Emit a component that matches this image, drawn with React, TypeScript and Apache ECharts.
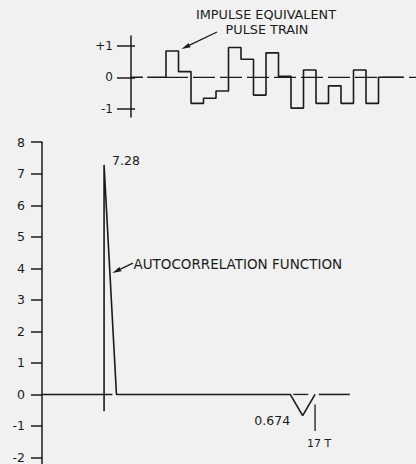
import React, { useEffect, useRef } from "react";
import * as echarts from "echarts";

// ---- Top: impulse-equivalent pulse train (17 slots of width T) ----
const pulseValues = [0.83, 0.18, -0.82, -0.66, -0.43, 0.94, 0.57, -0.56, 0.77, 0.03, -0.97, 0.23, -0.82, -0.27, -0.82, 0.23, -0.82];
const pulseLead = -1.5;
const pulseTail = 19;
const pulseTicks = [-1, 0, 1];
const pulseTickLabels: Record<string, string> = { "-1": "-1", "0": "0", "1": "+1" };
const pulseTitle = ["IMPULSE EQUIVALENT", "PULSE TRAIN"];

// ---- Bottom: autocorrelation function (lag in units of T) ----
const acLags = [0, 0, 1, 15, 16, 17];
const acValues = [-0.53, 7.28, 0, 0, -0.674, 0];
const acTicks = [-2, -1, 0, 1, 2, 3, 4, 5, 6, 7, 8];
const acTitle = "AUTOCORRELATION FUNCTION";
const peakLabel = "7.28";
const dipLabel = "0.674";
const lagLabel = "17 T";
const lagMarkX = 17;
const lagMarkY = [-0.32, -1.16];

const INK = "#1b1b1b";
const FONT = "'DejaVu Sans', 'Liberation Sans', Arial, sans-serif";

export default function App() {
  const ref = useRef<HTMLDivElement>(null);
  useEffect(() => {
    document.body.style.margin = "0";
    document.body.style.background = "#f1f1f1";
    const chart = echarts.init(ref.current!, null, { renderer: "svg" });

    const pulsePts: number[][] = [[pulseLead, 0], [0, 0]];
    pulseValues.forEach((v, i) => {
      pulsePts.push([i, v], [i + 1, v]);
    });
    pulsePts.push([pulseValues.length, 0], [pulseTail, 0]);

    const acPts = acLags.map((l, i) => [l, acValues[i]]);

    const line = (extra: any) => ({
      type: "line",
      symbol: "none",
      silent: true,
      clip: false,
      lineStyle: { color: INK, width: 1.6 },
      ...extra,
    });

    chart.setOption({
      animation: false,
      backgroundColor: "#f1f1f1",
      grid: [
        { left: 131, right: 0, top: 36, height: 81 },
        { left: 42, right: 63.7, top: 142.2, bottom: 0 },
      ],
      xAxis: [
        { type: "value", gridIndex: 0, min: -2.8, max: 20, show: false },
        { type: "value", gridIndex: 1, min: -5, max: 20, show: false },
      ],
      yAxis: [
        {
          type: "value", gridIndex: 0, min: -1.25, max: 1.3,
          axisLine: { show: true, onZero: false, lineStyle: { color: INK, width: 1.5 } },
          axisTick: { show: true, customValues: pulseTicks, length: 14, lineStyle: { color: INK, width: 1.5 } },
          axisLabel: {
            customValues: pulseTicks, margin: 18, color: INK, fontSize: 12, fontFamily: FONT,
            formatter: (v: number) => pulseTickLabels[String(v)],
          },
          splitLine: { show: false },
        },
        {
          type: "value", gridIndex: 0, min: -1.25, max: 1.3, position: "left",
          axisLine: { show: false, onZero: false },
          axisTick: { show: true, inside: true, customValues: pulseTicks, length: 4, lineStyle: { color: INK, width: 1.5 } },
          axisLabel: { show: false },
          splitLine: { show: false },
        },
        {
          type: "value", gridIndex: 1, min: -2.2, max: 8,
          axisLine: { show: true, onZero: false, lineStyle: { color: INK, width: 1.5 } },
          axisTick: { show: true, customValues: acTicks, length: 11, lineStyle: { color: INK, width: 1.5 } },
          axisLabel: {
            customValues: acTicks, margin: 17, color: INK, fontSize: 12.5, fontFamily: FONT,
            formatter: (v: number) => String(v),
          },
          splitLine: { show: false },
        },
      ],
      series: [
        // top zero reference (dashed) and stub right of axis
        line({ xAxisIndex: 0, yAxisIndex: 0, data: [[0, 0], [20, 0]], lineStyle: { color: INK, width: 1.3, type: [22, 5] } }),
        line({ xAxisIndex: 0, yAxisIndex: 0, data: [[-2.8, 0], [-1.85, 0]], lineStyle: { color: INK, width: 1.5 } }),
        line({ xAxisIndex: 0, yAxisIndex: 0, data: pulsePts }),
        // bottom baseline pieces
        line({ xAxisIndex: 1, yAxisIndex: 2, data: [[-5, 0], [0.67, 0]], lineStyle: { color: INK, width: 1.5 } }),
        line({ xAxisIndex: 1, yAxisIndex: 2, data: [[15, 0], [17.3, 0]], lineStyle: { color: INK, width: 1.3, type: [15, 12], dashOffset: 23.7 } }),
        line({ xAxisIndex: 1, yAxisIndex: 2, data: [[17.3, 0], [19.8, 0]], lineStyle: { color: INK, width: 1.5 } }),
        line({ xAxisIndex: 1, yAxisIndex: 2, data: acPts }),
        line({ xAxisIndex: 1, yAxisIndex: 2, data: [[lagMarkX, lagMarkY[0]], [lagMarkX, lagMarkY[1]]], lineStyle: { color: INK, width: 1.3 } }),
      ],
    });

    const p0 = (x: number, y: number) => chart.convertToPixel({ gridIndex: 0 }, [x, y]) as number[];
    const p1 = (x: number, y: number) => chart.convertToPixel({ gridIndex: 1 }, [x, y]) as number[];

    const arrow = (tail: number[], tip: number[]) => {
      const dx = tip[0] - tail[0], dy = tip[1] - tail[1];
      const len = Math.hypot(dx, dy);
      const ux = dx / len, uy = dy / len;
      const L = 9, W = 2.4;
      const bx = tip[0] - ux * L, by = tip[1] - uy * L;
      return [
        { type: "line", silent: true, shape: { x1: tail[0], y1: tail[1], x2: bx, y2: by }, style: { stroke: INK, lineWidth: 1.3 } },
        {
          type: "polygon", silent: true,
          shape: { points: [[tip[0], tip[1]], [bx - uy * W, by + ux * W], [bx + uy * W, by - ux * W]] },
          style: { fill: INK },
        },
      ];
    };
    const txt = (x: number, y: number, text: string, align: string, size = 12.5, extra: any = {}) => ({
      type: "text", silent: true, x, y,
      style: { text, fill: INK, fontSize: size, fontFamily: FONT, align, verticalAlign: "middle", ...extra },
    });

    const corner = p0(1, pulseValues[0]);
    const tipTop = [corner[0] + 3, corner[1] - 2];
    const titleAnchor = p0(8, 1.3);
    const peak = p1(0, acValues[1]);
    const dip = p1(16, acValues[4]);
    const lagEnd = p1(lagMarkX, lagMarkY[1]);
    const onSlope = p1(0.47, 3.85);

    chart.setOption({
      graphic: [
        txt(titleAnchor[0], 14.6, pulseTitle[0], "center", 12.8),
        txt(titleAnchor[0] + 1, 29.6, pulseTitle[1], "center", 12.8),
        ...arrow([217, 32], tipTop),
        txt(peak[0] + 8, peak[1] - 4, peakLabel, "left"),
        ...arrow([onSlope[0] + 23, onSlope[1] - 10], [onSlope[0] + 2.5, onSlope[1]]),
        txt(onSlope[0] + 23.5, onSlope[1] - 9.5, acTitle, "left", 13.5),
        txt(dip[0] - 12.5, dip[1] + 5, dipLabel, "right"),
        txt(lagEnd[0] + 4, lagEnd[1] + 12, lagLabel, "center", 11),
      ],
    });

    return () => chart.dispose();
  }, []);
  return <div ref={ref} style={{ position: "absolute", left: 0, top: 0, width: 416, height: 464, background: "#f1f1f1" }} />;
}
